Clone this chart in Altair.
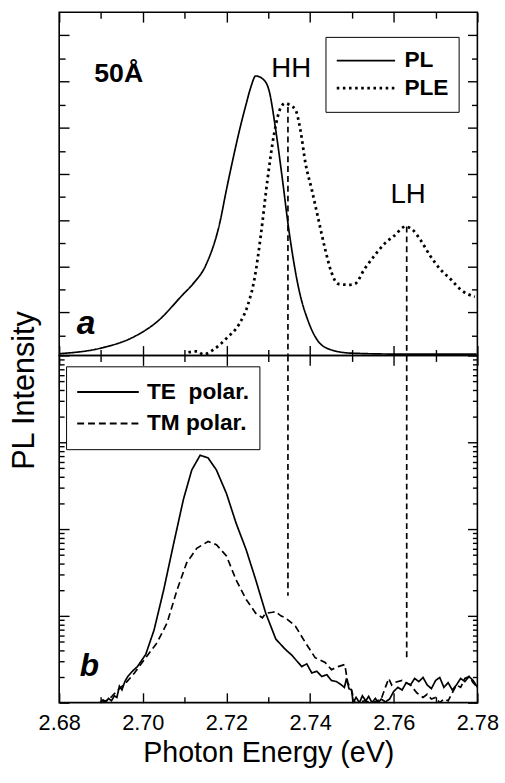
import altair as alt
import pandas as pd

FONT = "Liberation Sans"

# ---------------- data ----------------
# panel a : PL and PLE (linear, arbitrary units)
pl_energy = [2.6802, 2.6900, 2.6980, 2.7034, 2.7097, 2.7120, 2.7152, 2.7184, 2.7200,
             2.7215, 2.7231, 2.7247, 2.7258, 2.7270, 2.7290, 2.7302, 2.7318, 2.7333,
             2.7349, 2.7373, 2.7396, 2.7420, 2.7451, 2.7499, 2.7610, 2.7798]
pl_intensity = [0.11, 0.23, 0.48, 0.80, 1.40, 1.62, 2.05, 2.94, 3.66,
                4.30, 4.94, 5.51, 5.87, 6.12, 6.03, 5.80, 4.94, 3.94,
                2.80, 1.51, 0.80, 0.37, 0.19, 0.12, 0.10, 0.10]

ple_energy = [2.7109, 2.7129, 2.7145, 2.7168, 2.7200, 2.7231, 2.7251, 2.7267, 2.7282,
              2.7298, 2.7314, 2.7330, 2.7341, 2.7353, 2.7365, 2.7377, 2.7389, 2.7404,
              2.7420, 2.7436, 2.7451, 2.7467, 2.7491, 2.7507, 2.7530, 2.7554, 2.7577,
              2.7601, 2.7628, 2.7644, 2.7664, 2.7687, 2.7711, 2.7735, 2.7762, 2.7794]
ple_intensity = [0.14, 0.16, 0.09, 0.19, 0.44, 0.76, 1.16, 1.73, 2.66,
                 3.87, 4.87, 5.44, 5.53, 5.48, 5.39, 4.94, 4.23, 3.66,
                 3.01, 2.37, 1.87, 1.62, 1.60, 1.62, 1.94, 2.23, 2.48,
                 2.66, 2.86, 2.80, 2.57, 2.23, 1.94, 1.73, 1.48, 1.34]

# panel b : TE / TM polarised PL (log scale)
te_energy = [2.6897, 2.6905, 2.6912, 2.6918, 2.6925, 2.6932, 2.6938, 2.6944, 2.6950,
             2.6957, 2.6964, 2.6975, 2.6987, 2.7007, 2.7027, 2.7050, 2.7074, 2.7097,
             2.7117, 2.7137, 2.7156, 2.7176, 2.7200, 2.7223, 2.7247, 2.7270, 2.7294,
             2.7318, 2.7341, 2.7357, 2.7380, 2.7392, 2.7404, 2.7416, 2.7428, 2.7440,
             2.7451, 2.7463, 2.7475, 2.7482, 2.7487, 2.7493, 2.7499, 2.7503, 2.7510,
             2.7518, 2.7525, 2.7533, 2.7540, 2.7548, 2.7556, 2.7563, 2.7570, 2.7580,
             2.7590, 2.7600, 2.7610, 2.7620, 2.7630, 2.7640, 2.7650, 2.7660, 2.7670,
             2.7680, 2.7690, 2.7700, 2.7710, 2.7720, 2.7730, 2.7740, 2.7750, 2.7760,
             2.7770, 2.7780, 2.7790, 2.7800]
te_intensity = [1.0, 1.08, 1.02, 1.12, 1.05, 1.2, 1.15, 1.55, 1.4,
                1.75, 2.0, 2.3, 2.6, 3.6, 6.9, 20, 69, 219,
                479, 708, 661, 479, 257, 117, 58, 26, 10.7,
                5.4, 4.1, 3.5, 2.6, 2.8, 2.2, 2.3, 2.0, 2.1,
                1.8, 1.75, 1.6, 1.5, 1.9, 1.45, 1.4, 1.0, 1.15,
                1.0, 1.2, 1.05, 1.18, 1.0, 1.12, 1.0, 1.1, 1.02,
                1.1, 1.35, 1.5, 1.4, 1.7, 1.6, 1.9, 1.75, 1.95,
                1.6, 1.45, 1.8, 1.95, 1.5, 1.7, 1.4, 1.6, 1.9,
                1.75, 2.0, 1.8, 1.5]

tm_energy = [2.6900, 2.6920, 2.6940, 2.6960, 2.6980, 2.7011, 2.7034, 2.7058, 2.7082,
             2.7105, 2.7129, 2.7156, 2.7176, 2.7200, 2.7223, 2.7247, 2.7270, 2.7286,
             2.7294, 2.7310, 2.7318, 2.7330, 2.7341, 2.7365, 2.7389, 2.7412, 2.7436,
             2.7451, 2.7467, 2.7483, 2.7490, 2.7499, 2.7507, 2.7515, 2.7530, 2.7550,
             2.7570, 2.7580, 2.7588, 2.7595, 2.7600, 2.7620, 2.7640, 2.7655, 2.7670,
             2.7680, 2.7690, 2.7700, 2.7710, 2.7720, 2.7730, 2.7740, 2.7750, 2.7760,
             2.7770, 2.7780, 2.7790, 2.7800]
tm_intensity = [1.0, 1.1, 1.4, 1.7, 2.2, 3.5, 4.9, 8.3, 20,
                41, 60, 72, 66, 49, 26, 15.5, 10.7, 9.5,
                10.7, 11.0, 11.2, 10.0, 9.5, 7.6, 4.9, 3.3, 2.9,
                2.4, 2.6, 2.75, 1.7, 1.4, 1.0, 1.0, 1.05, 1.0,
                1.1, 1.5, 1.9, 1.6, 1.7, 1.8, 1.6, 1.3, 1.15,
                1.25, 1.1, 1.15, 1.0, 1.1, 1.05, 1.3, 1.6, 1.5,
                1.9, 2.0, 1.7, 1.5]

# marker lines (HH and LH transitions)
mark_energy = [2.7347, 2.7631]
mark_top_start = [5.45, 2.86]     # panel a: from the PLE peaks down
mark_bottom_end = [17, 3.2]       # panel b: from the top down to these values

# axis ticks
x_ticks = [2.68, 2.69, 2.70, 2.71, 2.72, 2.73, 2.74, 2.75, 2.76, 2.77, 2.78]
x_labels = [2.68, 2.70, 2.72, 2.74, 2.76, 2.78]
y_top_ticks = [0.5, 1, 1.5, 2, 2.5, 3, 3.5, 4, 4.5, 5, 5.5, 6, 6.5, 7]
y_log_ticks = [1, 2, 3, 4, 5, 6, 7, 8, 9,
               10, 20, 30, 40, 50, 60, 70, 80, 90,
               100, 200, 300, 400, 500, 600, 700, 800, 900,
               1000, 2000, 3000, 4000, 5000, 6000, 7000, 8000, 9000, 10000]

# ---------------- geometry ----------------
W = 424
H1 = 348
H2 = 352

X_MAJOR = "abs(datum.value*50 - round(datum.value*50)) < 0.01"
Y_LIN_MAJOR = "abs(datum.value - round(datum.value)) < 0.01"
Y_LOG_MAJOR = "abs(log(datum.value)/LN10 - round(log(datum.value)/LN10)) < 0.001"


def tick_size(test, major, minor):
    return {"condition": {"test": test, "value": major}, "value": minor}


def inward_x(H, edge):
    # axis drawn with an offset so that ticks point inside the frame
    return alt.Axis(orient="top" if edge == "bottom" else "bottom", offset=-H,
                    values=x_ticks, labels=False, domain=False, grid=False, title=None,
                    tickColor="black", tickWidth=1.4,
                    tickSize=tick_size(X_MAJOR, 10, 6))


def inward_y(edge, values, test, major=10, minor=6):
    return alt.Axis(orient="right" if edge == "left" else "left", offset=-W,
                    values=values, labels=False, domain=False, grid=False, title=None,
                    tickColor="black", tickWidth=1.4,
                    tickSize=tick_size(test, major, minor))


xscale = alt.Scale(domain=[2.68, 2.78], nice=False, zero=False)
ytop_scale = alt.Scale(domain=[0.07, 7.5], nice=False, zero=False)
ylog_scale = alt.Scale(type="log", domain=[1, 10000], nice=False)

# ---------------- panel a ----------------
df_top = pd.concat([
    pd.DataFrame({"E": pl_energy, "I": pl_intensity, "series": "PL"}),
    pd.DataFrame({"E": ple_energy, "I": ple_intensity, "series": "PLE"}),
])

top_lines = alt.Chart(df_top).mark_line(color="black", clip=True, interpolate="monotone").encode(
    x=alt.X("E:Q", scale=xscale, axis=inward_x(H1, "bottom")),
    y=alt.Y("I:Q", scale=ytop_scale, axis=inward_y("left", y_top_ticks, Y_LIN_MAJOR)),
    strokeDash=alt.StrokeDash("series:N",
                              scale=alt.Scale(domain=["PL", "PLE"], range=[[1, 0], [2.6, 3.6]]),
                              legend=alt.Legend(orient="none", legendX=270, legendY=25, title=None,
                                                symbolType="stroke", symbolSize=3500,
                                                symbolStrokeWidth=2.2, symbolStrokeColor="black",
                                                labelFont=FONT, labelFontSize=23, labelFontWeight="bold",
                                                labelColor="black", labelOffset=8,
                                                strokeColor="black", fillColor="white",
                                                padding=10, clipHeight=28, rowPadding=0)),
    strokeWidth=alt.StrokeWidth("series:N",
                                scale=alt.Scale(domain=["PL", "PLE"], range=[1.7, 2.8]),
                                legend=None),
)

df_rules_top = pd.DataFrame({"E": mark_energy, "y": mark_top_start, "y2": [0.07, 0.07]})
top_rules = alt.Chart(df_rules_top).mark_rule(color="black", strokeDash=[6, 4], strokeWidth=1.7).encode(
    x=alt.X("E:Q", scale=xscale, axis=inward_x(H1, "top")),
    y=alt.Y("y:Q", scale=ytop_scale, axis=inward_y("right", y_top_ticks, Y_LIN_MAJOR)),
    y2="y2:Q",
)

txt_bold_top = alt.Chart(pd.DataFrame({"E": [2.6884], "y": [6.0], "t": ["50Å"]})).mark_text(
    font=FONT, fontSize=27, fontWeight="bold", align="left", baseline="alphabetic", color="black"
).encode(x=alt.X("E:Q", scale=xscale, axis=None), y=alt.Y("y:Q", scale=ytop_scale, axis=None), text="t:N")

txt_norm_top = alt.Chart(pd.DataFrame({"E": [2.7307, 2.7592], "y": [6.09, 3.37], "t": ["HH", "LH"]})).mark_text(
    font=FONT, fontSize=28, align="left", baseline="alphabetic", color="black"
).encode(x=alt.X("E:Q", scale=xscale, axis=None), y=alt.Y("y:Q", scale=ytop_scale, axis=None), text="t:N")

txt_a = alt.Chart(pd.DataFrame({"E": [2.6842], "y": [0.54], "t": ["a"]})).mark_text(
    font=FONT, fontSize=34, fontWeight="bold", fontStyle="italic", align="left",
    baseline="alphabetic", color="black"
).encode(x=alt.X("E:Q", scale=xscale, axis=None), y=alt.Y("y:Q", scale=ytop_scale, axis=None), text="t:N")

top = alt.layer(top_lines, top_rules, txt_bold_top, txt_norm_top, txt_a).resolve_axis(
    x="independent", y="independent"
).properties(width=W, height=H1)

# ---------------- panel b ----------------
TE_LABEL = "TE\u00a0\u00a0polar."
TM_LABEL = "TM polar."
df_bot = pd.concat([
    pd.DataFrame({"E": te_energy, "I": te_intensity, "series": TE_LABEL}),
    pd.DataFrame({"E": tm_energy, "I": tm_intensity, "series": TM_LABEL}),
])

bot_lines = alt.Chart(df_bot).mark_line(color="black", strokeWidth=1.7, clip=True).encode(
    x=alt.X("E:Q", scale=xscale, axis=inward_x(H2, "bottom")),
    y=alt.Y("I:Q", scale=ylog_scale, axis=inward_y("left", y_log_ticks, Y_LOG_MAJOR, 10, 5)),
    strokeDash=alt.StrokeDash("series:N",
                              scale=alt.Scale(domain=[TE_LABEL, TM_LABEL], range=[[1, 0], [7, 4]]),
                              legend=alt.Legend(orient="none", legendX=7, legendY=11, title=None,
                                                symbolType="stroke", symbolSize=3900,
                                                symbolStrokeWidth=2.2, symbolStrokeColor="black",
                                                labelFont=FONT, labelFontSize=23, labelFontWeight="bold",
                                                labelColor="black", labelOffset=7,
                                                strokeColor="black", fillColor="white",
                                                padding=10, clipHeight=32, rowPadding=0)),
)

df_rules_bot = pd.DataFrame({"E": mark_energy, "y": [10000, 10000], "y2": mark_bottom_end})
bot_rules = alt.Chart(df_rules_bot).mark_rule(color="black", strokeDash=[6, 4], strokeWidth=1.7).encode(
    x=alt.X("E:Q", scale=xscale, axis=inward_x(H2, "top")),
    y=alt.Y("y:Q", scale=ylog_scale, axis=inward_y("right", y_log_ticks, Y_LOG_MAJOR, 10, 5)),
    y2="y2:Q",
)

txt_b = alt.Chart(pd.DataFrame({"E": [2.6849], "y": [2.04], "t": ["b"]})).mark_text(
    font=FONT, fontSize=32, fontWeight="bold", fontStyle="italic", align="left",
    baseline="alphabetic", color="black"
).encode(
    x=alt.X("E:Q", scale=xscale,
            axis=alt.Axis(orient="bottom", values=x_labels, format=".2f", ticks=False, tickSize=0,
                          domain=False, grid=False, labelFont=FONT, labelFontSize=22,
                          labelColor="black", labelPadding=10, labelFlush=False, labelOverlap=False,
                          title="Photon Energy (eV)", titleFont=FONT, titleFontSize=29,
                          titleFontWeight="normal", titleColor="black", titlePadding=6)),
    y=alt.Y("y:Q", scale=ylog_scale,
            axis=alt.Axis(orient="left", ticks=False, labels=False, domain=False, grid=False,
                          title="PL Intensity", titleFont=FONT, titleFontSize=31,
                          titleFontWeight="normal", titleColor="black",
                          titleX=-19, titleY=35, titleAngle=270,
                          titleAlign="center", titleBaseline="bottom")),
    text="t:N",
)

bottom = alt.layer(bot_lines, bot_rules, txt_b).resolve_axis(
    x="independent", y="independent"
).properties(width=W, height=H2)

chart = alt.vconcat(top, bottom, spacing=0, bounds="flush").resolve_scale(
    y="independent", strokeDash="independent", strokeWidth="independent"
).resolve_axis(
    x="independent", y="independent"
).resolve_legend(
    strokeDash="independent"
).properties(
    padding={"left": 8, "top": 5, "right": 5, "bottom": 5},
    background="white",
).configure_view(
    stroke="black", strokeWidth=1.6
)

chart.save("out.html", embed_options={"renderer": "svg", "actions": False})
